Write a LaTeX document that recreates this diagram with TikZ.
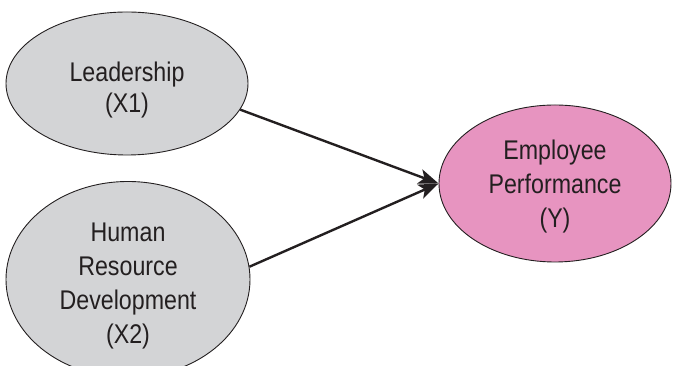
\documentclass[tikz,border=0pt]{standalone}
\usepackage{fontspec}
\setmainfont{Liberation Sans}[FakeStretch=0.86]
\usetikzlibrary{shapes.geometric,arrows.meta}
\definecolor{varfill}{RGB}{211,212,214}
\definecolor{depfill}{RGB}{231,148,192}
\definecolor{inkgray}{RGB}{35,31,32}
% strut on the first line lowers the text inside its ellipse
\newcommand{\toproom}[1]{\rule{0pt}{#1}}
\tikzset{
  var/.style={ellipse, draw=inkgray, line width=0.9pt, inner sep=0pt, align=center,
    text=inkgray, font=\fontsize{27}{34}\selectfont},
}
\begin{document}
\begin{tikzpicture}[x=1pt, y=1pt, >={Stealth[length=20pt, width=15pt, inset=5pt]}]
  \useasboundingbox (0,0) rectangle (673,366);
  \node[var, fill=varfill, minimum width=242pt, minimum height=143pt] (lead) at (127,282.5)
    {\toproom{32.7pt}Leadership\\[-2.5pt](X1)};
  \node[var, fill=varfill, minimum width=244pt, minimum height=159pt] (hrd) at (128,86.5)
    {\toproom{31pt}Human\\Resource\\Development\\(X2)};
  \node[var, fill=depfill, minimum width=232pt, minimum height=157pt] (emp) at (555,182.5)
    {\toproom{25pt}Employee\\Performance\\(Y)};
  \draw[->, line width=2.4pt, inkgray] (lead.-13) -- (emp.west);
  \draw[->, line width=2.4pt, inkgray] (hrd.6) -- (emp.west);
\end{tikzpicture}
\end{document}
